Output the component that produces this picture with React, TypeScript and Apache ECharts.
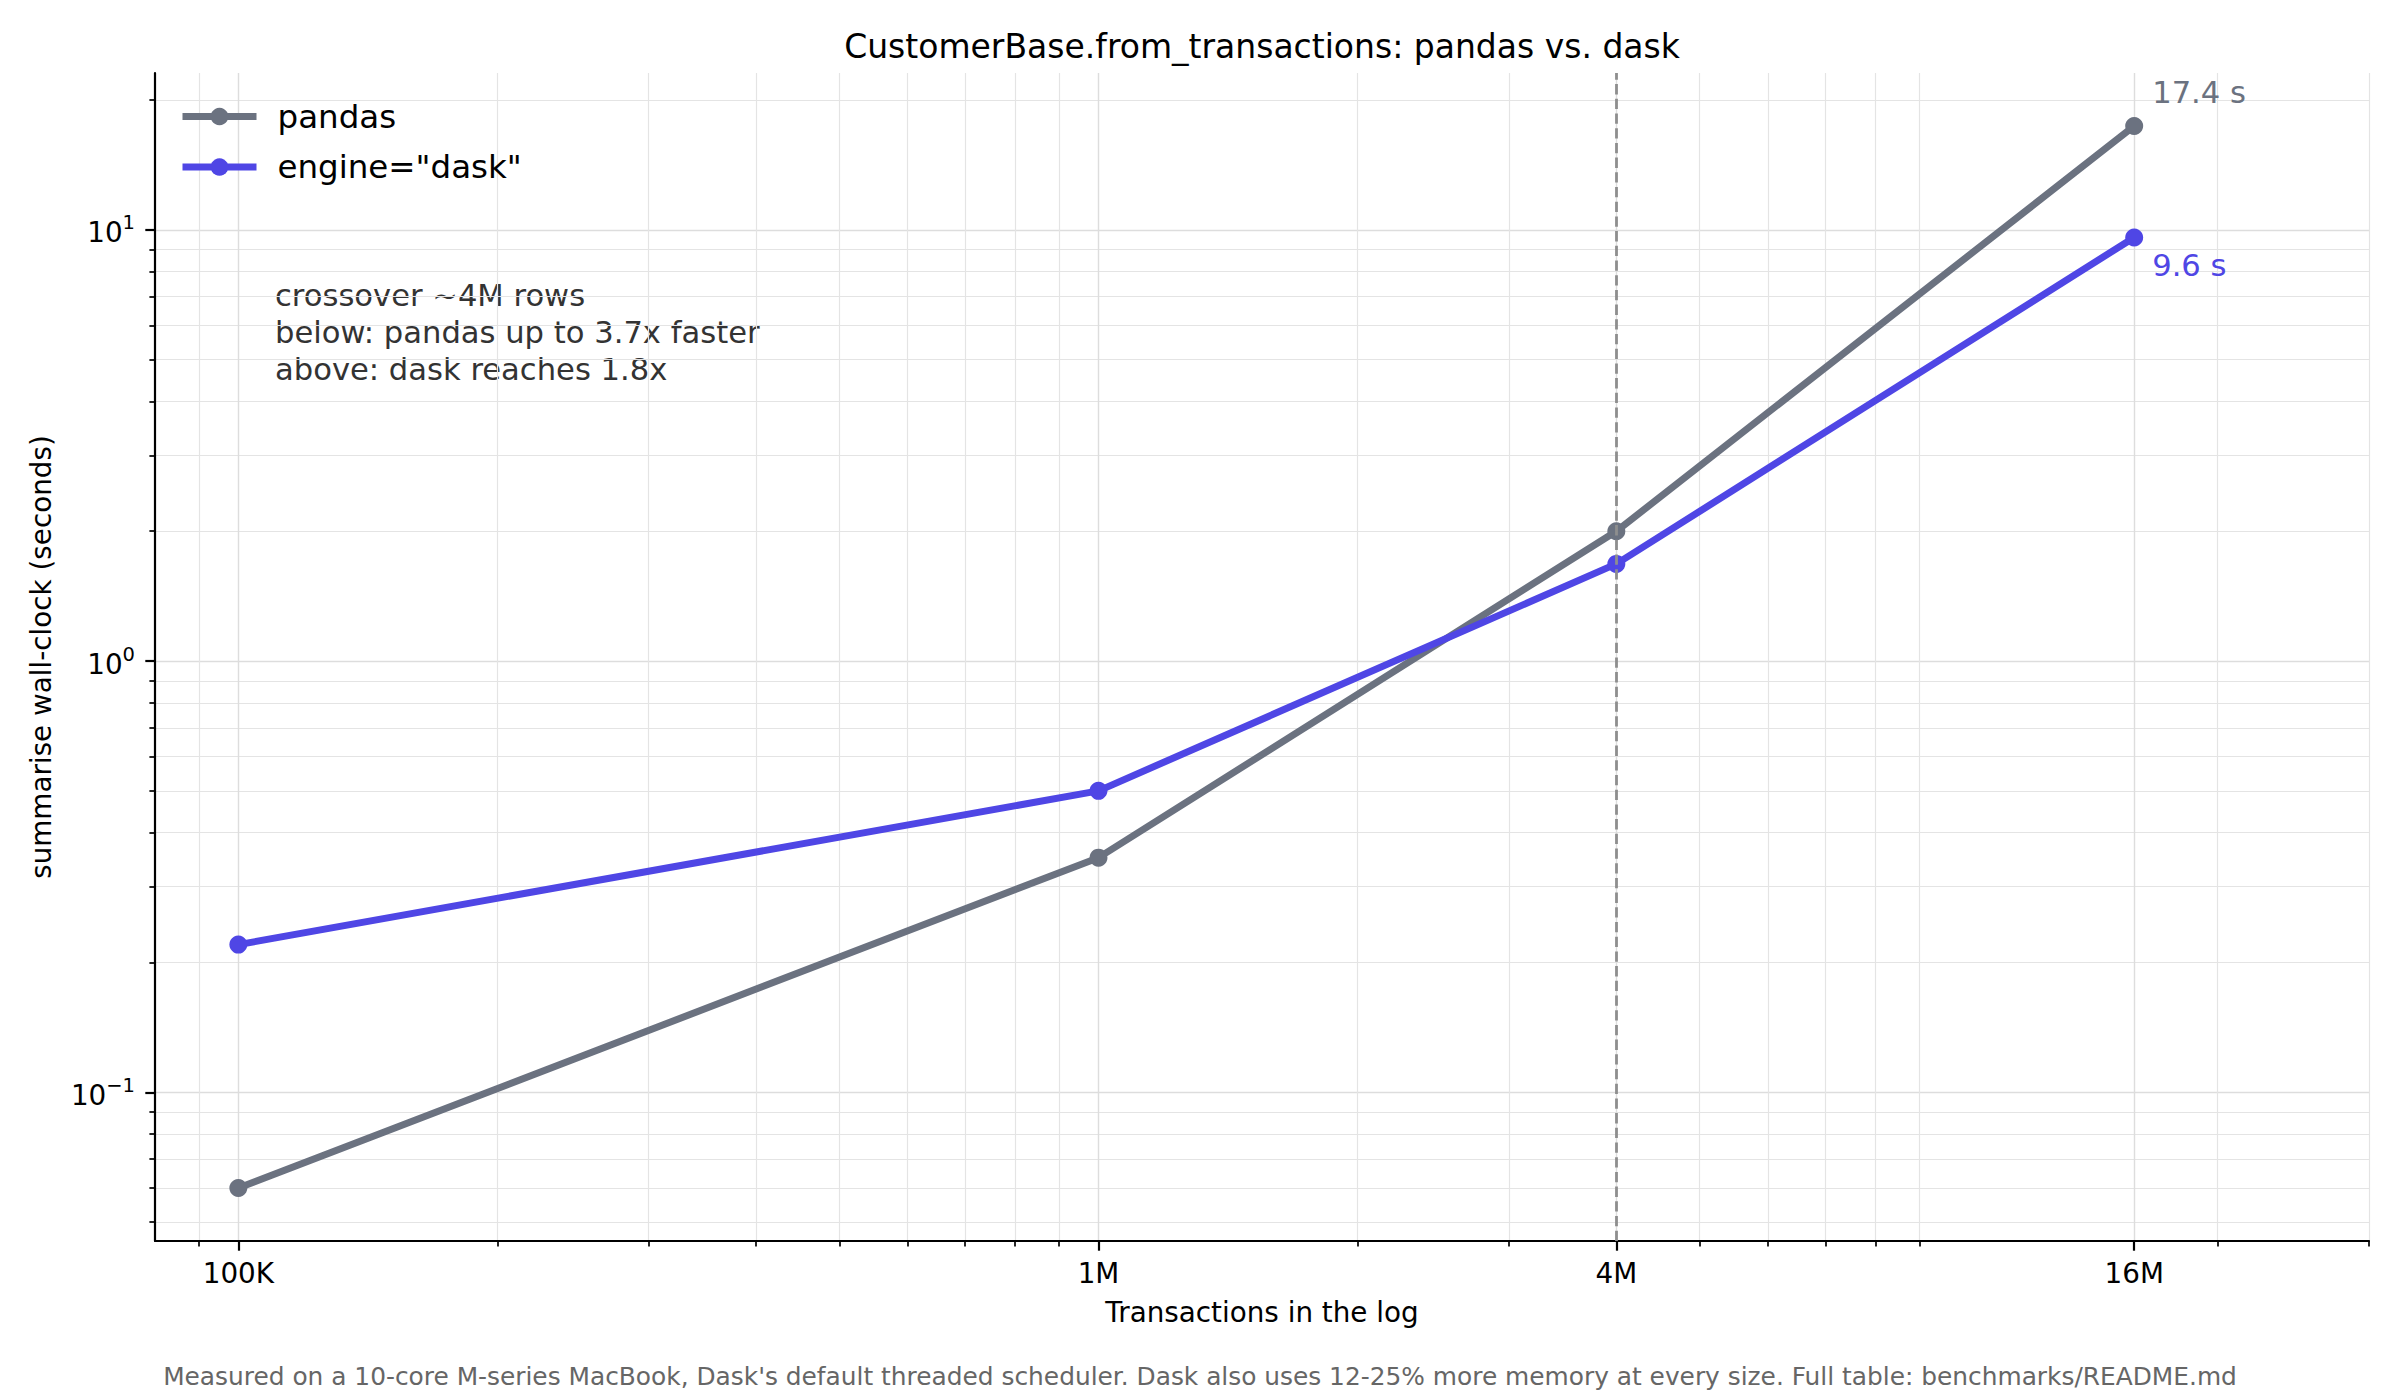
import React, { useEffect, useRef } from "react";
import * as echarts from "echarts";

// ---- data ----
const sizes = [1e5, 1e6, 4e6, 1.6e7];
const pandasSec = [0.06, 0.35, 2.0, 17.4];
const daskSec = [0.22, 0.5, 1.68, 9.6];
const seriesNames = ["pandas", 'engine="dask"'];
const crossover = 4e6;

const xMajorTicks = [1e5, 1e6, 4e6, 1.6e7];
const xMajorLabels = ["100K", "1M", "4M", "16M"];
const xMinorTicks = [
  9e4, 2e5, 3e5, 4e5, 5e5, 6e5, 7e5, 8e5, 9e5, 2e6, 3e6, 5e6, 6e6, 7e6, 8e6,
  9e6, 2e7, 3e7,
];
const yMajorTicks = [0.1, 1, 10];
const yMinorTicks = [
  0.05, 0.06, 0.07, 0.08, 0.09, 0.2, 0.3, 0.4, 0.5, 0.6, 0.7, 0.8, 0.9, 2, 3,
  4, 5, 6, 7, 8, 9, 20,
];
const xMin = 8e4;
const xMax = 3e7;
const yMin = 0.0452;
const yMax = 23.1;

const titleText = "CustomerBase.from_transactions: pandas vs. dask";
const xTitle = "Transactions in the log";
const yTitle = "summarise wall-clock (seconds)";
const noteLines = [
  "crossover ~4M rows",
  "below: pandas up to 3.7x faster",
  "above: dask reaches 1.8x",
];
const footnote =
  "Measured on a 10-core M-series MacBook, Dask's default threaded scheduler. Dask also uses 12-25% more memory at every size. Full table: benchmarks/README.md";

const FONT = "DejaVu Sans";
const PANDAS = "#6b7280";
const DASK = "#4f46e5";

function buildData(vals: number[], color: string, labelPos: number[]) {
  return sizes.map((s, i) => {
    const item: any = { value: [s, vals[i]] };
    if (i === sizes.length - 1) {
      item.label = {
        show: true,
        formatter: `${vals[i]} s`,
        position: labelPos,
        align: "left",
        verticalAlign: "middle",
        color,
        fontSize: 30.6,
        fontFamily: FONT,
      };
    }
    return item;
  });
}

export default function App() {
  const ref = useRef<HTMLDivElement>(null);
  useEffect(() => {
    document.body.style.margin = "0";
    if (!ref.current) return;
    const chart = echarts.init(ref.current, null, { renderer: "svg" });
    const tickLabel = {
      fontFamily: FONT,
      fontSize: 27.8,
      color: "#000",
    };
    const supFmt = (v: number) => {
      const e = Math.round(Math.log10(v));
      const s = e < 0 ? "\u2212" + -e : String(e);
      return `{b|10}{sup|${s}}`;
    };
    const option: any = {
      animation: false,
      backgroundColor: "#fff",
      title: {
        text: titleText,
        left: 1262,
        top: 26,
        textAlign: "center",
        padding: 0,
        textStyle: {
          fontFamily: FONT,
          fontSize: 33,
          fontWeight: "normal",
          color: "#000",
          lineHeight: 40,
        },
      },
      legend: {
        data: seriesNames,
        orient: "vertical",
        left: 179,
        top: 100,
        padding: 0,
        itemWidth: 74,
        itemHeight: 22,
        itemGap: 17.5,
        lineStyle: { width: 7 },
        textStyle: {
          fontFamily: FONT,
          fontSize: 32.5,
          color: "#000",
          padding: [0, 0, 0, 16],
        },
      },
      grid: {
        left: 155,
        top: 73,
        right: 31,
        bottom: 159,
        containLabel: false,
        outerBoundsMode: "none",
      },
      xAxis: [
        {
          type: "log",
          min: xMin,
          max: xMax,
          position: "bottom",
          name: xTitle,
          nameLocation: "middle",
          nameGap: 57,
          nameMoveOverlap: false,
          nameTextStyle: { fontFamily: FONT, fontSize: 27.8, color: "#000" },
          axisLine: { show: true, lineStyle: { color: "#000", width: 2.2 } },
          axisTick: {
            show: true,
            customValues: xMajorTicks,
            length: 9.7,
            lineStyle: { color: "#000", width: 2.2 },
          },
          axisLabel: {
            ...tickLabel,
            customValues: xMajorTicks,
            margin: 18,
            formatter: (v: number) => {
              const i = xMajorTicks.findIndex(
                (t) => Math.abs(t - v) / t < 1e-6
              );
              return i >= 0 ? xMajorLabels[i] : "";
            },
          },
          splitLine: {
            show: true,
            lineStyle: { color: "#dddddd", width: 1.4 },
          },
          minorTick: { show: false },
          minorSplitLine: { show: false },
        },
        {
          type: "log",
          min: xMin,
          max: xMax,
          position: "bottom",
          axisLine: { show: false },
          axisTick: {
            show: true,
            customValues: xMinorTicks,
            length: 5.6,
            lineStyle: { color: "#000", width: 1.7 },
          },
          axisLabel: { show: false },
          splitLine: {
            show: true,
            lineStyle: { color: "#e4e4e4", width: 1.2 },
          },
        },
      ],
      yAxis: [
        {
          type: "log",
          min: yMin,
          max: yMax,
          position: "left",
          name: yTitle,
          nameLocation: "middle",
          nameGap: 100,
          nameRotate: 90,
          nameMoveOverlap: false,
          nameTextStyle: { fontFamily: FONT, fontSize: 27.8, color: "#000" },
          axisLine: { show: true, lineStyle: { color: "#000", width: 2.2 } },
          axisTick: {
            show: true,
            customValues: yMajorTicks,
            length: 9.7,
            lineStyle: { color: "#000", width: 2.2 },
          },
          axisLabel: {
            customValues: yMajorTicks,
            margin: 20,
            formatter: supFmt,
            rich: {
              b: {
                fontFamily: FONT,
                fontSize: 27.8,
                color: "#000",
                lineHeight: 34,
                verticalAlign: "bottom",
              },
              sup: {
                fontFamily: FONT,
                fontSize: 19.5,
                color: "#000",
                lineHeight: 20,
                verticalAlign: "top",
              },
            },
          },
          splitLine: {
            show: true,
            lineStyle: { color: "#dddddd", width: 1.4 },
          },
        },
        {
          type: "log",
          min: yMin,
          max: yMax,
          position: "left",
          axisLine: { show: false },
          axisTick: {
            show: true,
            customValues: yMinorTicks,
            length: 5.6,
            lineStyle: { color: "#000", width: 1.7 },
          },
          axisLabel: { show: false },
          splitLine: {
            show: true,
            lineStyle: { color: "#e4e4e4", width: 1.2 },
          },
        },
      ],
      series: [
        {
          name: seriesNames[0],
          type: "line",
          xAxisIndex: 0,
          yAxisIndex: 0,
          data: buildData(pandasSec, PANDAS, [27, -25]),
          symbol: "circle",
          symbolSize: 18,
          lineStyle: { color: PANDAS, width: 7 },
          itemStyle: { color: PANDAS },
          z: 3,
        },
        {
          name: seriesNames[1],
          type: "line",
          xAxisIndex: 0,
          yAxisIndex: 0,
          data: buildData(daskSec, DASK, [27, 37]),
          symbol: "circle",
          symbolSize: 18,
          lineStyle: { color: DASK, width: 7 },
          itemStyle: { color: DASK },
          z: 4,
        },
        {
          name: "crossover",
          type: "line",
          xAxisIndex: 0,
          yAxisIndex: 0,
          data: [],
          z: 6,
          markLine: {
            silent: true,
            symbol: "none",
            z: 10,
            label: { show: false },
            lineStyle: {
              type: [10.3, 4.4],
              color: "#8e8e8e",
              width: 2.8,
            },
            data: [{ xAxis: crossover }],
          },
        },
      ],
      graphic: [
        {
          type: "text",
          left: 275,
          top: 276.5,
          style: {
            text: noteLines.join("\n"),
            fontFamily: FONT,
            fontSize: 30.6,
            lineHeight: 37,
            fill: "#333",
          },
        },
        {
          type: "text",
          x: 1200,
          y: 1376,
          style: {
            text: footnote,
            fontFamily: FONT,
            fontSize: 24.85,
            fill: "#666",
            align: "center",
            verticalAlign: "middle",
          },
        },
      ],
    };
    chart.setOption(option);
    return () => chart.dispose();
  }, []);
  return <div ref={ref} style={{ width: 2400, height: 1400 }} />;
}
